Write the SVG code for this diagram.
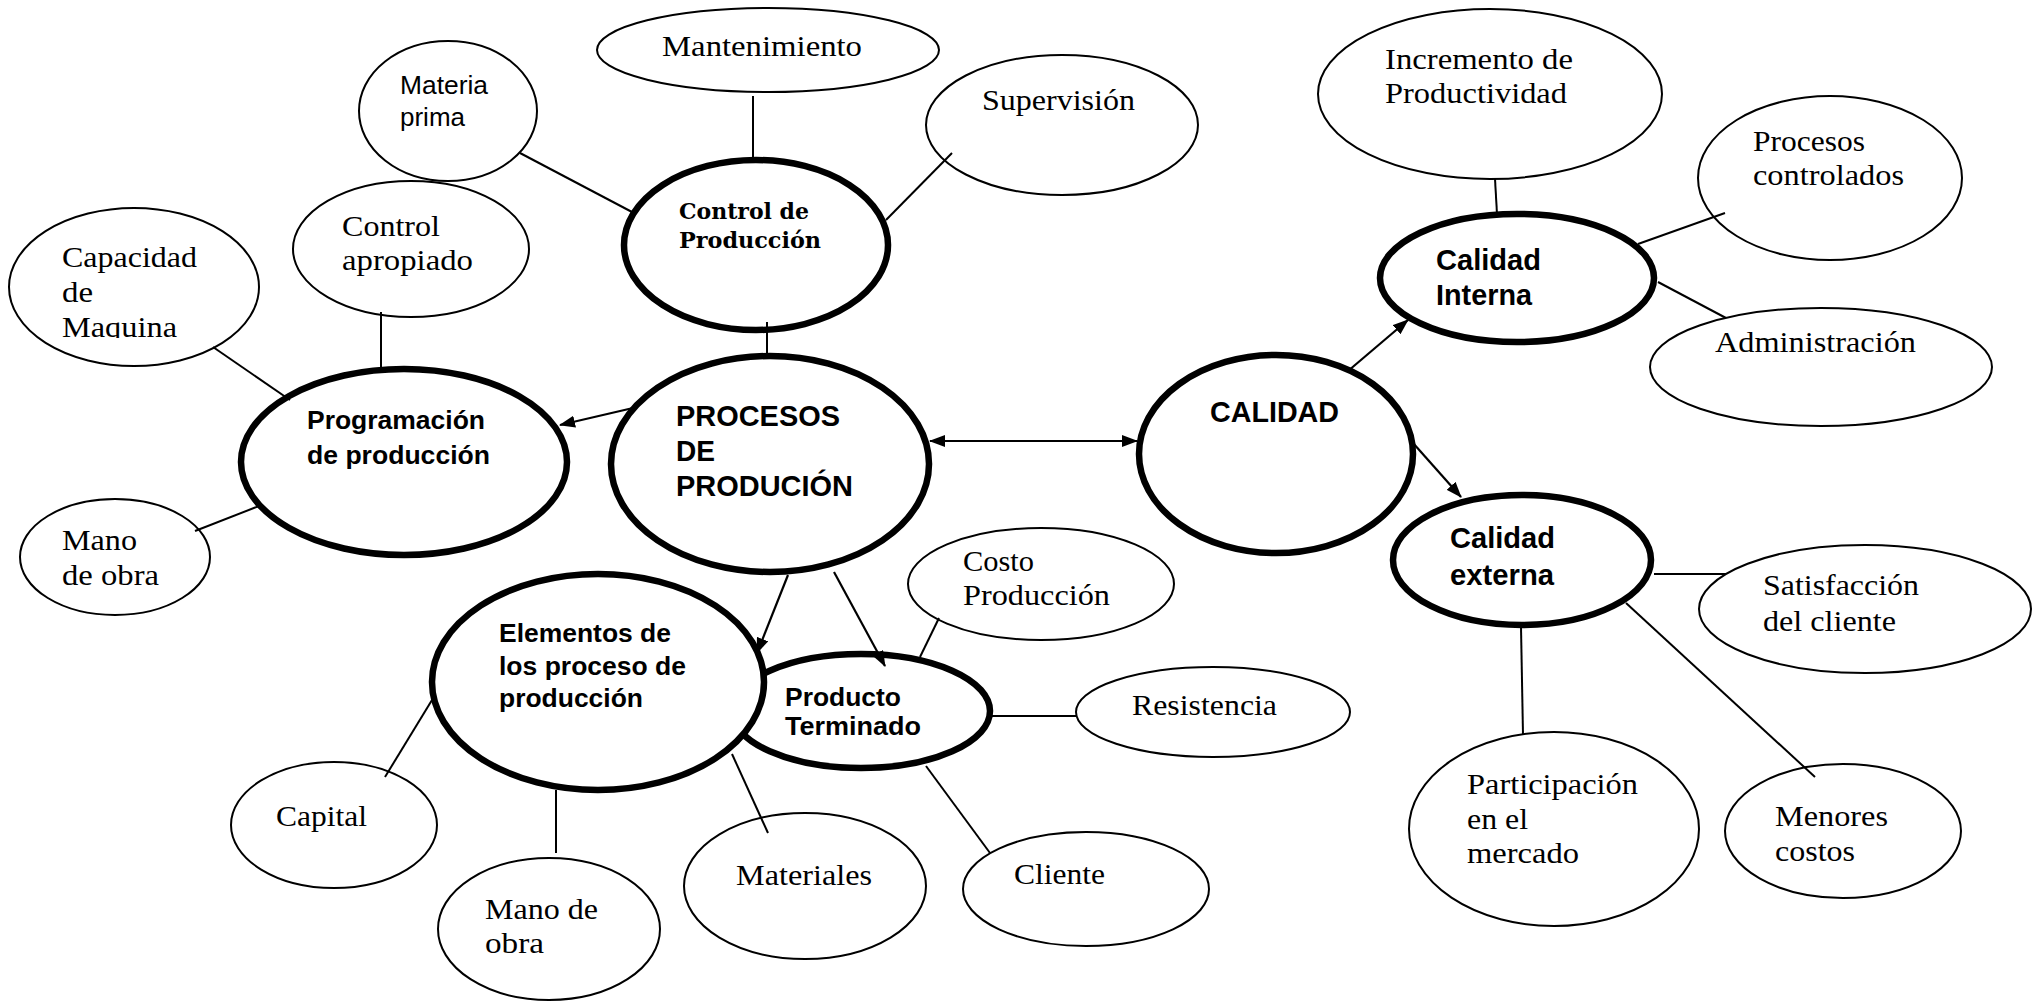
<svg xmlns="http://www.w3.org/2000/svg" width="2039" height="1002" viewBox="0 0 2039 1002">
  <style>
    .thin { fill: #fff; stroke: #000; stroke-width: 2; }
    .thick { fill: #fff; stroke: #000; stroke-width: 6.5; }
    .serif { font-family: "Liberation Serif", "Times New Roman", serif; font-size: 29.5px; fill: #000; }
    .bserif { font-family: "DejaVu Serif", "Liberation Serif", serif; font-weight: bold; font-size: 22px; fill: #000; }
    .sans { font-family: "Liberation Sans", Arial, sans-serif; font-size: 26px; fill: #000; }
    .sbold { font-family: "Liberation Sans", Arial, sans-serif; font-weight: bold; font-size: 26.5px; fill: #000; }
    .sbig { font-family: "Liberation Sans", Arial, sans-serif; font-weight: bold; font-size: 29.5px; fill: #000; }
    .link { fill: none; stroke: #000; stroke-width: 2; }
    .arrow { fill: none; stroke: #000; stroke-width: 2.2; }
  </style>
  <defs>
    <marker id="head" markerUnits="userSpaceOnUse" markerWidth="16" markerHeight="12" refX="15" refY="6" orient="auto-start-reverse">
      <path d="M0,0 L16,6 L0,12 z" fill="#000"/>
    </marker>
    <clipPath id="clipCapacidad">
      <rect x="0" y="180" width="300" height="158"/>
    </clipPath>
  </defs>
  <rect width="2039" height="1002" fill="#fff"/>

  <!-- production side -->
  <g id="mantenimiento">
    <ellipse class="thin" cx="768" cy="50" rx="171" ry="42"/>
    <text class="serif" x="662" y="56" textLength="200" lengthAdjust="spacingAndGlyphs">Mantenimiento</text>
  </g>
  <g id="materia-prima">
    <ellipse class="thin" cx="448" cy="111" rx="89" ry="70"/>
    <text class="sans" x="400" y="94" textLength="88" lengthAdjust="spacingAndGlyphs">Materia</text>
    <text class="sans" x="400" y="126" textLength="65" lengthAdjust="spacingAndGlyphs">prima</text>
  </g>
  <g id="supervision">
    <ellipse class="thin" cx="1062" cy="125" rx="136" ry="70"/>
    <text class="serif" x="982" y="110" textLength="153" lengthAdjust="spacingAndGlyphs">Supervisión</text>
  </g>
  <g id="control-produccion">
    <ellipse class="thick" cx="756" cy="245" rx="132" ry="85"/>
    <text class="bserif" x="679" y="219" textLength="130" lengthAdjust="spacingAndGlyphs">Control de</text>
    <text class="bserif" x="679" y="248" textLength="142" lengthAdjust="spacingAndGlyphs">Producción</text>
  </g>
  <g id="control-apropiado">
    <ellipse class="thin" cx="411" cy="249" rx="118" ry="68"/>
    <text class="serif" x="342" y="236" textLength="98" lengthAdjust="spacingAndGlyphs">Control</text>
    <text class="serif" x="342" y="270" textLength="131" lengthAdjust="spacingAndGlyphs">apropiado</text>
  </g>
  <g id="capacidad-maquina">
    <ellipse class="thin" cx="134" cy="287" rx="125" ry="79"/>
    <g clip-path="url(#clipCapacidad)">
      <text class="serif" x="62" y="267" textLength="135" lengthAdjust="spacingAndGlyphs">Capacidad</text>
      <text class="serif" x="62" y="302" textLength="31" lengthAdjust="spacingAndGlyphs">de</text>
      <text class="serif" x="62" y="337" textLength="115" lengthAdjust="spacingAndGlyphs">Maquina</text>
    </g>
  </g>
  <g id="programacion">
    <ellipse class="thick" cx="404" cy="462" rx="163" ry="93"/>
    <text class="sbold" x="307" y="429" textLength="178" lengthAdjust="spacingAndGlyphs">Programación</text>
    <text class="sbold" x="307" y="464" textLength="183" lengthAdjust="spacingAndGlyphs">de producción</text>
  </g>
  <g id="mano-obra-1">
    <ellipse class="thin" cx="115" cy="557" rx="95" ry="58"/>
    <text class="serif" x="62" y="550" textLength="75" lengthAdjust="spacingAndGlyphs">Mano</text>
    <text class="serif" x="62" y="585" textLength="97" lengthAdjust="spacingAndGlyphs">de obra</text>
  </g>
  <g id="procesos">
    <ellipse class="thick" cx="770" cy="464" rx="159" ry="108"/>
    <text class="sbig" x="676" y="426" textLength="164" lengthAdjust="spacingAndGlyphs">PROCESOS</text>
    <text class="sbig" x="676" y="461" textLength="39" lengthAdjust="spacingAndGlyphs">DE</text>
    <text class="sbig" x="676" y="496" textLength="177" lengthAdjust="spacingAndGlyphs">PRODUCIÓN</text>
  </g>
  <g id="producto-terminado">
    <ellipse class="thick" cx="861" cy="711" rx="129" ry="57"/>
    <text class="sbold" x="785" y="706" textLength="116" lengthAdjust="spacingAndGlyphs">Producto</text>
    <text class="sbold" x="785" y="735" textLength="136" lengthAdjust="spacingAndGlyphs">Terminado</text>
  </g>
  <g id="elementos">
    <ellipse class="thick" cx="598" cy="682" rx="166" ry="108"/>
    <text class="sbold" x="499" y="642" textLength="172" lengthAdjust="spacingAndGlyphs">Elementos de</text>
    <text class="sbold" x="499" y="675" textLength="187" lengthAdjust="spacingAndGlyphs">los proceso de</text>
    <text class="sbold" x="499" y="707" textLength="144" lengthAdjust="spacingAndGlyphs">producción</text>
  </g>
  <g id="costo-produccion">
    <ellipse class="thin" cx="1041" cy="584" rx="133" ry="56"/>
    <text class="serif" x="963" y="571" textLength="71" lengthAdjust="spacingAndGlyphs">Costo</text>
    <text class="serif" x="963" y="605" textLength="147" lengthAdjust="spacingAndGlyphs">Producción</text>
  </g>
  <g id="resistencia">
    <ellipse class="thin" cx="1213" cy="712" rx="137" ry="45"/>
    <text class="serif" x="1132" y="715" textLength="145" lengthAdjust="spacingAndGlyphs">Resistencia</text>
  </g>
  <g id="capital">
    <ellipse class="thin" cx="334" cy="825" rx="103" ry="63"/>
    <text class="serif" x="276" y="826" textLength="91" lengthAdjust="spacingAndGlyphs">Capital</text>
  </g>
  <g id="mano-obra-2">
    <ellipse class="thin" cx="549" cy="929" rx="111" ry="71"/>
    <text class="serif" x="485" y="919" textLength="113" lengthAdjust="spacingAndGlyphs">Mano de</text>
    <text class="serif" x="485" y="953" textLength="59" lengthAdjust="spacingAndGlyphs">obra</text>
  </g>
  <g id="materiales">
    <ellipse class="thin" cx="805" cy="886" rx="121" ry="73"/>
    <text class="serif" x="736" y="885" textLength="136" lengthAdjust="spacingAndGlyphs">Materiales</text>
  </g>
  <g id="cliente">
    <ellipse class="thin" cx="1086" cy="889" rx="123" ry="57"/>
    <text class="serif" x="1014" y="884" textLength="91" lengthAdjust="spacingAndGlyphs">Cliente</text>
  </g>

  <!-- quality side -->
  <g id="calidad">
    <ellipse class="thick" cx="1276" cy="454" rx="137" ry="99"/>
    <text class="sbig" x="1210" y="422" textLength="129" lengthAdjust="spacingAndGlyphs">CALIDAD</text>
  </g>
  <g id="incremento">
    <ellipse class="thin" cx="1490" cy="94" rx="172" ry="85"/>
    <text class="serif" x="1385" y="69" textLength="188" lengthAdjust="spacingAndGlyphs">Incremento de</text>
    <text class="serif" x="1385" y="103" textLength="182" lengthAdjust="spacingAndGlyphs">Productividad</text>
  </g>
  <g id="procesos-controlados">
    <ellipse class="thin" cx="1830" cy="178" rx="132" ry="82"/>
    <text class="serif" x="1753" y="151" textLength="112" lengthAdjust="spacingAndGlyphs">Procesos</text>
    <text class="serif" x="1753" y="185" textLength="151" lengthAdjust="spacingAndGlyphs">controlados</text>
  </g>
  <g id="calidad-interna">
    <ellipse class="thick" cx="1517" cy="278" rx="137" ry="64"/>
    <text class="sbig" x="1436" y="270" textLength="105" lengthAdjust="spacingAndGlyphs">Calidad</text>
    <text class="sbig" x="1436" y="305" textLength="96" lengthAdjust="spacingAndGlyphs">Interna</text>
  </g>
  <g id="administracion">
    <ellipse class="thin" cx="1821" cy="367" rx="171" ry="59"/>
    <text class="serif" x="1715" y="352" textLength="201" lengthAdjust="spacingAndGlyphs">Administración</text>
  </g>
  <g id="calidad-externa">
    <ellipse class="thick" cx="1522" cy="560" rx="129" ry="65"/>
    <text class="sbig" x="1450" y="548" textLength="105" lengthAdjust="spacingAndGlyphs">Calidad</text>
    <text class="sbig" x="1450" y="585" textLength="104" lengthAdjust="spacingAndGlyphs">externa</text>
  </g>
  <g id="satisfaccion">
    <ellipse class="thin" cx="1865" cy="609" rx="166" ry="64"/>
    <text class="serif" x="1763" y="595" textLength="156" lengthAdjust="spacingAndGlyphs">Satisfacción</text>
    <text class="serif" x="1763" y="631" textLength="133" lengthAdjust="spacingAndGlyphs">del cliente</text>
  </g>
  <g id="participacion">
    <ellipse class="thin" cx="1554" cy="829" rx="145" ry="97"/>
    <text class="serif" x="1467" y="794" textLength="171" lengthAdjust="spacingAndGlyphs">Participación</text>
    <text class="serif" x="1467" y="829" textLength="61" lengthAdjust="spacingAndGlyphs">en el</text>
    <text class="serif" x="1467" y="863" textLength="112" lengthAdjust="spacingAndGlyphs">mercado</text>
  </g>
  <g id="menores-costos">
    <ellipse class="thin" cx="1843" cy="831" rx="118" ry="67"/>
    <text class="serif" x="1775" y="826" textLength="113" lengthAdjust="spacingAndGlyphs">Menores</text>
    <text class="serif" x="1775" y="861" textLength="80" lengthAdjust="spacingAndGlyphs">costos</text>
  </g>

  <!-- connectors -->
  <g id="connectors">
    <line class="link" x1="520" y1="153" x2="632" y2="212"/>
    <line class="link" x1="753" y1="96" x2="753" y2="161"/>
    <line class="link" x1="952" y1="153" x2="886" y2="220"/>
    <line class="link" x1="767" y1="322" x2="767" y2="357"/>
    <line class="link" x1="381" y1="312" x2="381" y2="369"/>
    <line class="link" x1="213" y1="347" x2="290" y2="400"/>
    <line class="link" x1="259" y1="506" x2="195" y2="531"/>
    <line class="arrow" x1="633" y1="408" x2="560" y2="425" marker-end="url(#head)"/>
    <line class="arrow" x1="930" y1="441" x2="1137" y2="441" marker-start="url(#head)" marker-end="url(#head)"/>
    <line class="arrow" x1="1348" y1="371" x2="1408" y2="320" marker-end="url(#head)"/>
    <line class="arrow" x1="1413" y1="443" x2="1461" y2="497" marker-end="url(#head)"/>
    <line class="link" x1="1495" y1="179" x2="1497" y2="214"/>
    <line class="link" x1="1638" y1="244" x2="1725" y2="213"/>
    <line class="link" x1="1658" y1="282" x2="1726" y2="318"/>
    <line class="link" x1="1654" y1="574" x2="1726" y2="574"/>
    <line class="link" x1="1521" y1="627" x2="1523" y2="735"/>
    <line class="link" x1="1626" y1="603" x2="1815" y2="777"/>
    <line class="arrow" x1="788" y1="575" x2="757" y2="653" marker-end="url(#head)"/>
    <line class="arrow" x1="834" y1="572" x2="885" y2="666" marker-end="url(#head)"/>
    <line class="link" x1="939" y1="618" x2="920" y2="657"/>
    <line class="link" x1="991" y1="716" x2="1076" y2="716"/>
    <line class="link" x1="926" y1="766" x2="990" y2="853"/>
    <line class="link" x1="732" y1="754" x2="768" y2="833"/>
    <line class="link" x1="556" y1="790" x2="556" y2="853"/>
    <line class="link" x1="432" y1="700" x2="385" y2="777"/>
  </g>
</svg>
